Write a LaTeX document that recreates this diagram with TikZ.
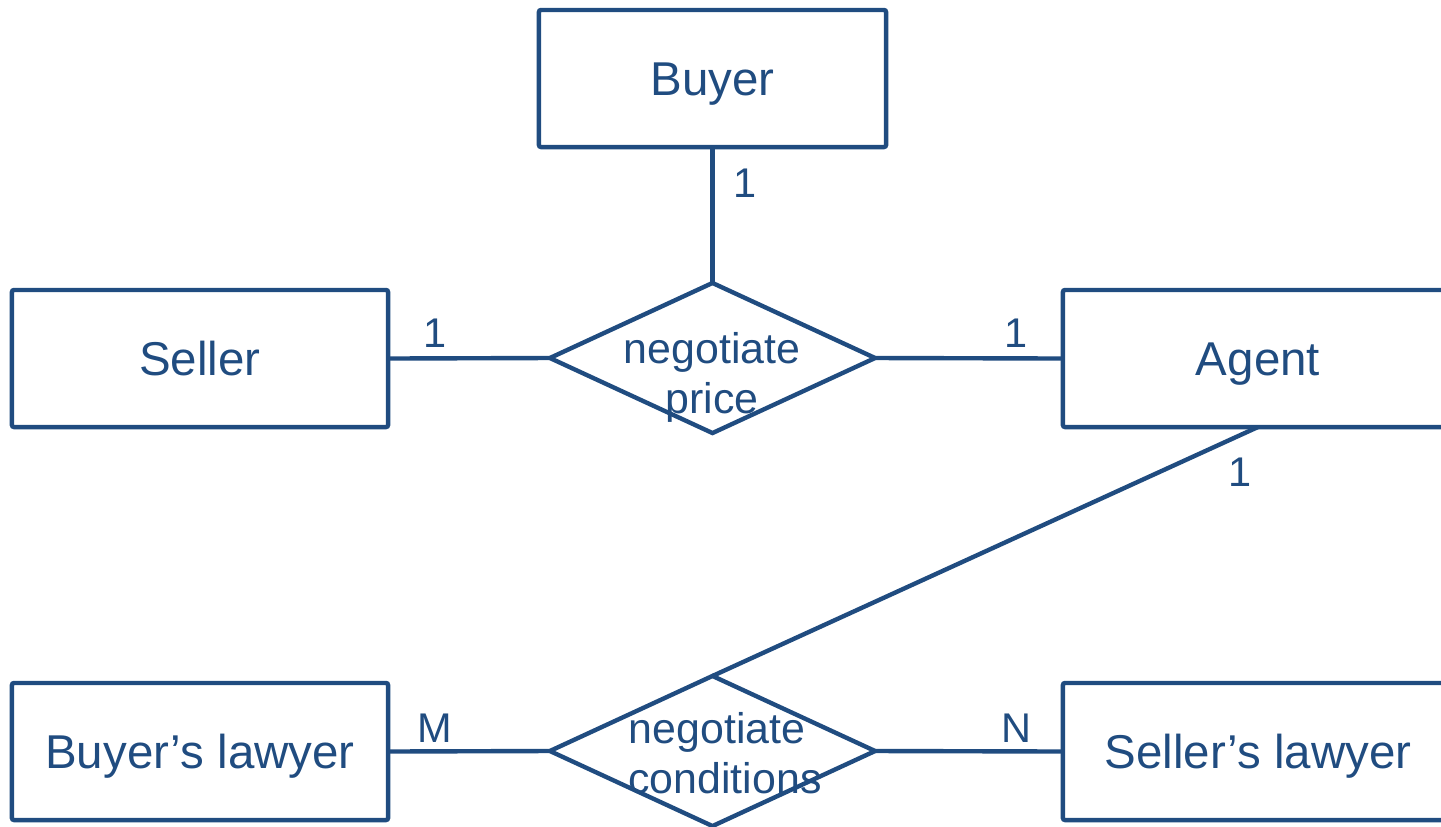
\documentclass[tikz,border=0pt]{standalone}
\usepackage{fontspec}
\setmainfont{Liberation Sans}
\usetikzlibrary{shapes.geometric}
\definecolor{erblue}{RGB}{32,76,128}
\begin{document}
\begin{tikzpicture}[x=0.01cm,y=-0.01cm,
  entity/.style={draw=erblue, line width=1.25pt, rounded corners=0.6pt, minimum width=3.76cm, minimum height=1.37cm, inner sep=0pt, outer sep=0pt, text=erblue, font=\fontsize{13.5}{16}\selectfont, text height=9.7pt, text depth=0pt},
  rel/.style={draw=erblue, line width=1.25pt, diamond, minimum width=3.25cm, minimum height=1.5cm, inner sep=0pt, outer sep=0pt},
  reltext/.style={text=erblue, font=\fontsize{12.2}{14}\selectfont, inner sep=0pt, anchor=base},
  card/.style={text=erblue, font=\fontsize{11.8}{14}\selectfont, inner sep=0pt, text height=8.45pt, text depth=0pt},
  conn/.style={draw=erblue, line width=1.25pt}]
\useasboundingbox (0,0) rectangle (1441,826);
% entities
\node[entity, minimum width=3.47cm] (buyer) at (712.5,78.5) {Buyer};
\node[entity] (seller) at (200,358.5) {Seller};
\node[entity, minimum width=3.90cm] (agent) at (1258,358.5) {Agent};
\node[entity] (blawyer) at (200,751.5) {Buyer’s lawyer};
\node[entity, minimum width=3.90cm] (slawyer) at (1258,751.5) {Seller’s lawyer};
% relationships
\node[rel] (price) at (712.5,358) {};
\node[rel] (cond) at (712.5,751) {};
\node[reltext] (pricea) at (712,363) {negotiate};
\node[reltext] (priceb) at (712,413) {price};
\node[reltext] (conda) at (717,743) {negotiate};
\node[reltext] (condb) at (725,793) {conditions};
% connectors
\draw[conn] (buyer.south) -- (price.north);
\draw[conn] (seller.east) -- (price.west);
\draw[conn] (price.east) -- (agent.west);
\coordinate (agentlink) at (1258,427);
\draw[conn] (agentlink) -- (cond.north);
\draw[conn] (blawyer.east) -- (cond.west);
\draw[conn] (cond.east) -- (slawyer.west);
% cardinalities
\node[card] (c1) at (745,183) {1};
\node[card] (c2) at (435,333) {1};
\node[card] (c3) at (1016,333) {1};
\node[card] (c4) at (1240,472) {1};
\node[card] (c5) at (435,728) {M};
\node[card] (c6) at (1016,728) {N};
\end{tikzpicture}
\end{document}
